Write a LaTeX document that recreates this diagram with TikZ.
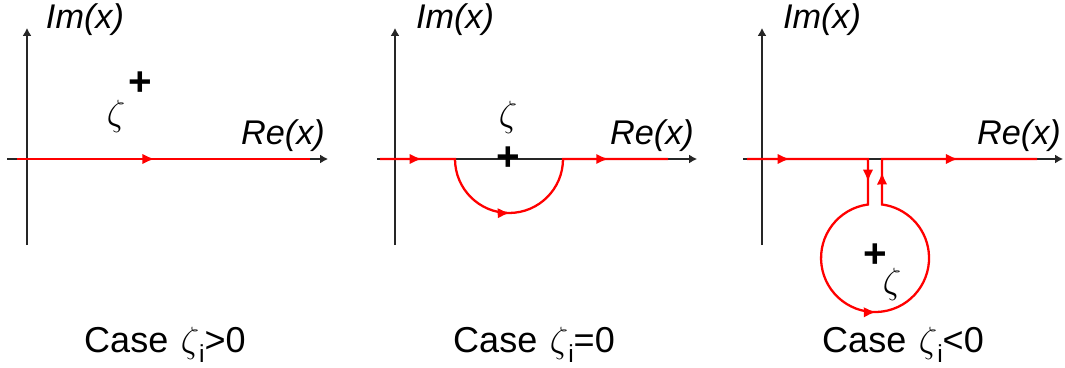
\documentclass[tikz,border=0pt]{standalone}
\usepackage{fontspec}
\setmainfont{Liberation Sans}
\usetikzlibrary{arrows.meta, decorations.markings}
\newcommand{\zsub}{$\zeta$\raisebox{-0.3em}{\fontsize{14}{14}\selectfont i}}
\tikzset{
  axisline/.style = {-{Latex[length=4.5pt,width=5pt]}, line width=0.6pt, black!85},
  contour/.style  = {line width=1.3pt, red},
  midarr/.style   = {postaction={decorate, decoration={markings,
                     mark=at position #1 with {\arrow{Latex[length=7pt,width=6pt]}}}}},
  lbl/.style      = {inner sep=0pt, font=\fontsize{19.5}{22}\selectfont\itshape},
  zeta/.style     = {inner sep=0pt, font=\fontsize{22}{26}\selectfont},
  pole/.style     = {inner sep=0pt, font=\fontsize{23}{26}\selectfont\bfseries},
  caselbl/.style  = {inner sep=0pt, anchor=base, font=\fontsize{20.5}{24}\selectfont}
}
\begin{document}
\begin{tikzpicture}[x=0.02cm, y=-0.02cm]
  \useasboundingbox (0,0) rectangle (1065,368);
  % zeta_i > 0
  \draw[axisline] (27,245) -- (27,28);
  \draw[axisline] (7,159) -- (328,159);
  \draw[contour, midarr=0.47] (17,159) -- (310,159);
  \node[lbl]     (im1) at (85,20)   {Im(x)};
  \node[lbl]     (re1) at (283,136) {Re(x)};
  \node[pole]    (p1)  at (140,84)  {+};
  \node[zeta]    (z1)  at (116,116) {$\zeta$};
  \node[caselbl] (c1)  at (165,352) {Case\hspace{0.35em}\zsub>0};
  % zeta_i = 0
  \draw[axisline] (395,245) -- (395,28);
  \draw[axisline] (377,159) -- (697,159);
  \draw[contour, midarr=0.12, midarr=0.46, midarr=0.83]
    (380,159) -- (455,159) arc (180:0:54) -- (668,159);
  \node[lbl]     (im2) at (455,20)  {Im(x)};
  \node[lbl]     (re2) at (652,136) {Re(x)};
  \node[pole]    (p2)  at (508,159) {+};
  \node[zeta]    (z2)  at (508,117) {$\zeta$};
  \node[caselbl] (c2)  at (534,352) {Case\hspace{0.35em}\zsub=0};
  % zeta_i < 0
  \draw[axisline] (762,245) -- (762,28);
  \draw[axisline] (743,159) -- (1063,159);
  \draw[contour, midarr=0.062, midarr=0.208, midarr=0.477, midarr=0.757, midarr=0.886]
    (747,159) -- (868,159) -- (868,204.5) arc (262.5:-82.5:54) -- (882,159) -- (1037,159);
  \node[lbl]     (im3) at (822,20)  {Im(x)};
  \node[lbl]     (re3) at (1019,136) {Re(x)};
  \node[pole]    (p3)  at (875,256) {+};
  \node[zeta]    (z3)  at (892,284) {$\zeta$};
  \node[caselbl] (c3)  at (903,352) {Case\hspace{0.35em}\zsub<0};
\end{tikzpicture}
\end{document}
